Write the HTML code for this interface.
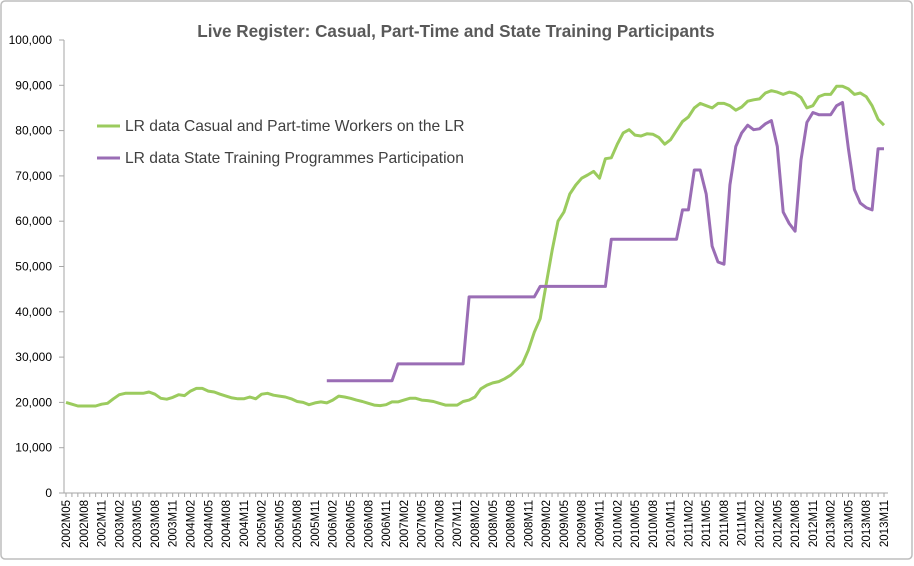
<!DOCTYPE html>
<html><head><meta charset="utf-8">
<style>
body{margin:0;background:#fff;}
svg text{font-family:"Liberation Sans",sans-serif;}
</style></head>
<body>
<svg id="chart" width="914" height="561" xmlns="http://www.w3.org/2000/svg">
<rect x="1" y="1" width="911" height="558" rx="4" fill="#fff" stroke="#bdbdbd" stroke-width="1.5"/>
<text x="456" y="37" text-anchor="middle" font-size="17.1" font-weight="bold" fill="#595959">Live Register: Casual, Part-Time and State Training Participants</text>
<g id="yaxis"></g><g id="xaxis"></g><g id="series"></g>
<g>
<line x1="97" y1="126" x2="120" y2="126" stroke="#9bcb5e" stroke-width="3"/>
<text x="125" y="131" font-size="15.6" fill="#404040">LR data Casual and Part-time Workers on the LR</text>
<line x1="97" y1="158" x2="120" y2="158" stroke="#9a6db5" stroke-width="3"/>
<text x="125" y="163" font-size="15.6" fill="#404040">LR data State Training Programmes Participation</text>
</g>
</svg>
<script>
const yTicks=[0,10000,20000,30000,40000,50000,60000,70000,80000,90000,100000];
const casual=[20.0,19.6,19.2,19.2,19.2,19.2,19.6,19.8,20.8,21.7,22.0,22.0,
22.0,22.0,22.3,21.8,20.9,20.7,21.1,21.7,21.5,22.5,23.1,23.1,
22.5,22.3,21.8,21.4,21.0,20.8,20.8,21.2,20.8,21.8,22.0,21.6,
21.4,21.2,20.8,20.2,20.0,19.5,19.9,20.1,19.9,20.5,21.4,21.2,
20.9,20.5,20.2,19.8,19.4,19.3,19.5,20.1,20.1,20.5,20.9,20.9,
20.5,20.4,20.2,19.8,19.4,19.4,19.4,20.2,20.5,21.2,23.0,23.8,
24.3,24.6,25.2,26.0,27.2,28.5,31.5,35.5,38.5,46,53.5,60,
62,66,68,69.5,70.2,71,69.5,73.8,74,77,79.5,80.2,
79,78.8,79.3,79.2,78.5,77,78,80,82,83,85,86,
85.5,85,86,86,85.5,84.5,85.2,86.5,86.8,87,88.3,88.8,
88.5,88,88.5,88.2,87.3,85,85.5,87.5,88,88,89.8,89.8,
89.2,88,88.3,87.5,85.5,82.5,81.2];
const training=[null,null,null,null,null,null,null,null,null,null,null,null,
null,null,null,null,null,null,null,null,null,null,null,null,
null,null,null,null,null,null,null,null,null,null,null,null,
null,null,null,null,null,null,null,null,
24.8,24.8,24.8,24.8,24.8,24.8,24.8,24.8,24.8,24.8,24.8,24.8,
28.5,28.5,28.5,28.5,28.5,28.5,28.5,28.5,28.5,28.5,28.5,28.5,
43.3,43.3,43.3,43.3,43.3,43.3,43.3,43.3,43.3,43.3,43.3,43.3,
45.6,45.6,45.6,45.6,45.6,45.6,45.6,45.6,45.6,45.6,45.6,45.6,
56,56,56,56,56,56,56,56,56,56,56,56,
62.5,62.5,71.3,71.3,66,54.5,51,50.5,68,76.5,79.5,81.2,80.2,80.4,81.5,82.2,76.5,62,59.5,57.8,73.5,81.8,84,83.5,83.5,83.5,85.5,86.2,76,67,64,63,62.5,76,76];
const startYear=2002, startMonth=5;

const NS="http://www.w3.org/2000/svg";
const X0=66,X1=884,Y0=493,Y1=40;
const n=casual.length;
const xs=i=>X0+i*(X1-X0)/(n-1);
const ys=v=>Y0-(v*1000)/100000*(Y0-Y1);
const ysRaw=v=>Y0-v/100000*(Y0-Y1);
function mk(tag,attrs,parent){const e=document.createElementNS(NS,tag);for(const k in attrs)e.setAttribute(k,attrs[k]);parent.appendChild(e);return e;}
const yg=document.getElementById('yaxis'),xg=document.getElementById('xaxis'),sg=document.getElementById('series');
let ax=mk('line',{x1:64,y1:Y1,x2:64,y2:Y0,stroke:'#a6a6a6','stroke-width':1},yg);


yTicks.forEach(t=>{
  const y=ysRaw(t);
  const tk=mk('line',{x1:59,y1:y,x2:64,y2:y,stroke:'#a6a6a6'},yg);
  
  
  const tx=mk('text',{x:52,y:y+4,'text-anchor':'end','font-size':12,fill:'#000'},yg);
  tx.textContent=t.toLocaleString('en-US');
  
  
});
let bx=mk('line',{x1:64,y1:Y0,x2:888,y2:Y0,stroke:'#a6a6a6'},xg);


for(let i=0;i<n;i++){
  const x=xs(i);
  const tk=mk('line',{x1:x,y1:Y0,x2:x,y2:Y0+4,stroke:'#a6a6a6'},xg);
  
  
  if(i%3===0){
    const m=startMonth-1+i, yr=startYear+Math.floor(m/12), mo=m%12+1;
    const tx=mk('text',{transform:`translate(${x+4},500) rotate(-90)`,'text-anchor':'end','font-size':11.5,fill:'#000'},xg);
    tx.textContent=yr+'M'+String(mo).padStart(2,'0');
    
    
  }
}
function line(arr,color,name){
  let d='',pen=false;
  arr.forEach((v,i)=>{if(v==null){pen=false;return;}d+=(pen?'L':'M')+xs(i).toFixed(1)+','+ys(v).toFixed(1);pen=true;});
  const p=mk('path',{d:d,fill:'none',stroke:color,'stroke-width':3,'stroke-linejoin':'round'},sg);
  
  
}
line(casual,'#9bcb5e','series-casual-line');
line(training,'#9a6db5','series-training-line');
</script>
</body></html>
